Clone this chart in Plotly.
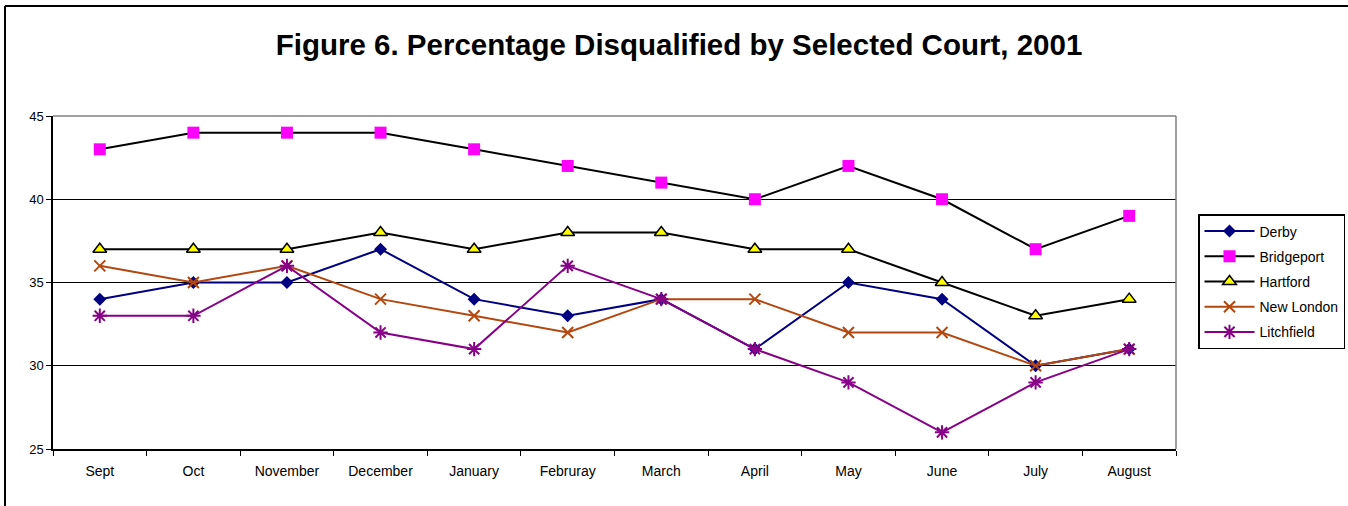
import plotly.graph_objects as go

months = ["Sept", "Oct", "November", "December", "January", "Februray",
          "March", "April", "May", "June", "July", "August"]
derby = [34, 35, 35, 37, 34, 33, 34, 31, 35, 34, 30, 31]
bridgeport = [43, 44, 44, 44, 43, 42, 41, 40, 42, 40, 37, 39]
hartford = [37, 37, 37, 38, 37, 38, 38, 37, 37, 35, 33, 34]
new_london = [36, 35, 36, 34, 33, 32, 34, 34, 32, 32, 30, 31]
litchfield = [33, 33, 36, 32, 31, 36, 34, 31, 29, 26, 29, 31]

FONT = "Liberation Sans, Arial, sans-serif"
W, H = 1348, 506
PL, PR, PT, PB = 53, 1176, 116, 449  # plot area pixel edges
pw, ph = PR - PL, PB - PT


def px(x):
    return (x - PL) / pw


def py(y):
    return (PB - y) / ph


fig = go.Figure()
fig.add_trace(go.Scatter(
    x=months, y=derby, name="Derby", mode="lines+markers", legendgroup="a",
    line=dict(color="#000080", width=2),
    marker=dict(symbol="diamond", size=10, color="#000080")))
fig.add_trace(go.Scatter(
    x=months, y=bridgeport, name="Bridgeport", mode="lines+markers", legendgroup="b",
    line=dict(color="#000000", width=2),
    marker=dict(symbol="square", size=12, color="#FF00FF")))
fig.add_trace(go.Scatter(
    x=months, y=hartford, name="Hartford", mode="lines+markers", legendgroup="c",
    line=dict(color="#000000", width=2),
    marker=dict(symbol="triangle-up", size=12, color="#FFFF00",
                line=dict(color="#000000", width=1.5))))
fig.add_trace(go.Scatter(
    x=months, y=new_london, name="New London", mode="lines+markers", legendgroup="d",
    line=dict(color="#B3470F", width=2),
    marker=dict(symbol="x-thin", size=11, color="#B3470F",
                line=dict(color="#B3470F", width=2))))
fig.add_trace(go.Scatter(
    x=months, y=litchfield, name="Litchfield", mode="lines+markers", legendgroup="e",
    line=dict(color="#880088", width=2),
    marker=dict(symbol="asterisk", size=12, color="#880088",
                line=dict(color="#880088", width=2))))

fig.update_layout(
    width=W, height=H,
    margin=dict(l=PL, r=W - PR, t=PT, b=H - PB, autoexpand=False),
    paper_bgcolor="white", plot_bgcolor="white",
    font=dict(family=FONT, size=13, color="black"),
    title=dict(text="<b>Figure 6. Percentage Disqualified by Selected Court, 2001</b>",
               x=679 / W, xanchor="center", xref="container",
               y=1 - 45 / H, yanchor="middle", yref="container",
               font=dict(family=FONT, size=29.5, color="black")),
    showlegend=True,
    legend=dict(x=px(1198), xanchor="left", y=py(214), yanchor="top",
                bordercolor="black", borderwidth=1.5, bgcolor="white",
                font=dict(family=FONT, size=14, color="black"),
                traceorder="grouped", tracegroupgap=4, itemwidth=50),
    xaxis=dict(type="category", range=[-0.5, 11.5], tickson="boundaries",
               ticks="outside", ticklen=5, tickcolor="black",
               ticklabelstandoff=8,
               showline=True, linecolor="black", linewidth=1.5,
               showgrid=False, zeroline=False,
               tickfont=dict(family=FONT, size=14)),
    yaxis=dict(range=[25, 45], dtick=5, tick0=25,
               ticks="outside", ticklen=5, tickcolor="black",
               showline=True, linecolor="black", linewidth=1.5,
               showgrid=True, gridcolor="black", gridwidth=1,
               zeroline=False, tickfont=dict(family=FONT, size=13)),
    shapes=[
        dict(type="line", xref="paper", yref="paper", x0=0, x1=1, y0=1, y1=1,
             line=dict(color="#808080", width=1.5), layer="above"),
        dict(type="line", xref="paper", yref="paper", x0=1, x1=1, y0=0, y1=1,
             line=dict(color="#808080", width=1.5), layer="above"),
        dict(type="line", xref="paper", yref="paper",
             x0=px(5), x1=px(W + 5), y0=py(6), y1=py(6),
             line=dict(color="black", width=2)),
        dict(type="line", xref="paper", yref="paper",
             x0=px(5), x1=px(5), y0=py(6), y1=py(H + 5),
             line=dict(color="black", width=2)),
    ],
)

fig.write_html("out.html",
               config={"displayModeBar": False},
               post_script="document.body.style.margin='0';"
                           "document.body.style.overflow='hidden';")
